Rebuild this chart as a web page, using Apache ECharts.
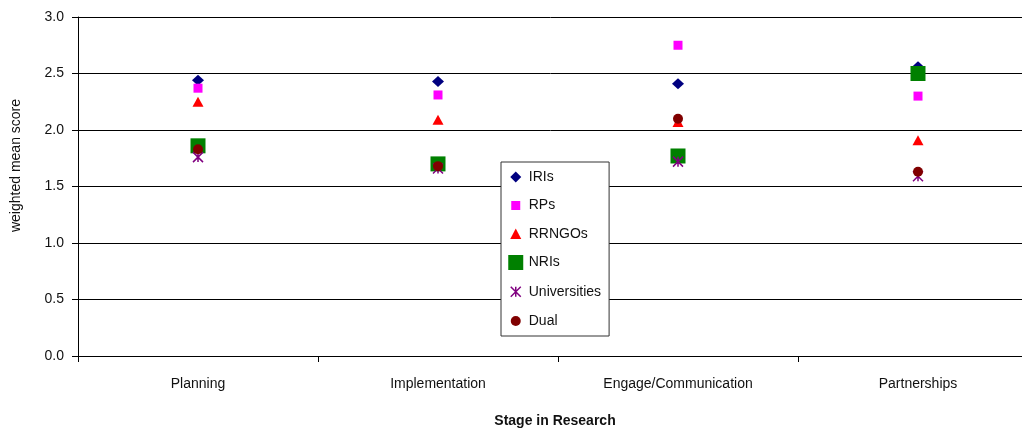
<!DOCTYPE html>
<html>
<head>
<meta charset="utf-8">
<script src="https://cdn.jsdelivr.net/npm/echarts@6/dist/echarts.min.js"></script>
<style>
  html, body { margin: 0; padding: 0; background: #fff; overflow: hidden; }
  #chart { width: 1022px; height: 430px; }
</style>
</head>
<body>
<div id="chart"></div>
<script>
// Stages of the research process (x categories)
const stages = ['Planning', 'Implementation', 'Engage/Communication', 'Partnerships'];

// Weighted mean score per stage, one array per organisation type
const iris         = [2.44, 2.43, 2.41, 2.56];
const rps          = [2.37, 2.31, 2.75, 2.30];
const rrngos       = [2.25, 2.09, 2.07, 1.91];
const nris         = [1.86, 1.70, 1.77, 2.50];
const universities = [1.76, 1.66, 1.72, 1.59];
const dual         = [1.83, 1.68, 2.10, 1.63];

// Y axis ticks
const yTicks = [0, 0.5, 1.0, 1.5, 2.0, 2.5, 3.0];

const FONT = '"Liberation Sans", Arial, sans-serif';
const STAR = 'path://M0,0L10,10M10,0L0,10M5,0L5,10';

// Legend icons drawn inside a 16x16 box so each keeps its own size
const corner = 'M0,0L0,0M16,16L16,16';
const legendIcons = {
  IRIs: 'path://' + corner + 'M8,2.5L13.5,8L8,13.5L2.5,8Z',
  RPs: 'path://' + corner + 'M3.5,3.5L12.5,3.5L12.5,12.5L3.5,12.5Z',
  RRNGOs: 'path://' + corner + 'M8,2.5L13.5,13L2.5,13Z',
  NRIs: 'path://' + corner + 'M0.5,0.5L15.5,0.5L15.5,15.5L0.5,15.5Z',
  Universities: 'path://' + corner + 'M3,3L13,13M13,3L3,13M8,3L8,13',
  Dual: 'path://' + corner + 'M3,8A5,5 0 1 1 13,8A5,5 0 1 1 3,8Z'
};

function scatter(name, values, symbol, size, color, extra) {
  return Object.assign({
    name: name,
    type: 'scatter',
    data: values,
    symbol: symbol,
    symbolSize: size,
    itemStyle: { color: color, borderWidth: 0, opacity: 1 },
    emphasis: { disabled: true }
  }, extra || {});
}

const chart = echarts.init(document.getElementById('chart'), null, { renderer: 'canvas' });

chart.setOption({
  animation: false,
  backgroundColor: '#fff',
  textStyle: { fontFamily: FONT },
  // the plot area runs a little past the right edge of the canvas
  grid: { left: 78, top: 17, width: 960, height: 339, containLabel: false, outerBoundsMode: 'none' },
  xAxis: {
    type: 'category',
    data: stages,
    boundaryGap: true,
    name: 'Stage in Research',
    nameLocation: 'middle',
    nameGap: 58,
    nameTextStyle: { fontFamily: FONT, fontSize: 14, fontWeight: 'bold', color: '#111', padding: [0, 6, 0, 0] },
    axisLine: { lineStyle: { color: '#000', width: 1 } },
    axisTick: { show: true, alignWithLabel: false, length: 6, lineStyle: { color: '#000' } },
    axisLabel: { fontFamily: FONT, fontSize: 14, color: '#111', margin: 21 },
    splitLine: { show: false }
  },
  yAxis: {
    type: 'value',
    min: yTicks[0],
    max: yTicks[yTicks.length - 1],
    interval: 0.5,
    name: 'weighted mean score',
    nameLocation: 'middle',
    nameGap: 55,
    nameRotate: 90,
    nameTextStyle: { fontFamily: FONT, fontSize: 14, color: '#111', padding: [0, 0, 0, 42] },
    axisLine: { show: true, lineStyle: { color: '#000', width: 1 } },
    axisTick: { show: true, length: 6, lineStyle: { color: '#000' } },
    axisLabel: { fontFamily: FONT, fontSize: 14, color: '#111', margin: 14, formatter: v => v.toFixed(1) },
    splitLine: { show: true, lineStyle: { color: '#000', width: 1 } }
  },
  legend: {
    orient: 'vertical',
    left: 501,
    top: 162,
    padding: [7, 8, 7, 6],
    itemWidth: 16,
    itemHeight: 16,
    itemGap: 12.5,
    backgroundColor: '#fff',
    borderColor: '#333',
    borderWidth: 1,
    borderRadius: 0,
    textStyle: { fontFamily: FONT, fontSize: 14, color: '#111' },
    data: [
      { name: 'IRIs', icon: legendIcons.IRIs },
      { name: 'RPs', icon: legendIcons.RPs },
      { name: 'RRNGOs', icon: legendIcons.RRNGOs },
      { name: 'NRIs', icon: legendIcons.NRIs },
      { name: 'Universities', icon: legendIcons.Universities, itemStyle: { borderColor: '#800080', borderWidth: 1.5 } },
      { name: 'Dual', icon: legendIcons.Dual }
    ]
  },
  series: [
    scatter('IRIs', iris, 'diamond', [12, 11], '#000080'),
    scatter('RPs', rps, 'rect', 9, '#FF00FF'),
    scatter('RRNGOs', rrngos, 'triangle', [11, 10], '#FF0000'),
    scatter('NRIs', nris, 'rect', 15, '#008000'),
    scatter('Universities', universities, STAR, 10, '#800080', {
      itemStyle: { color: '#800080', borderColor: '#800080', borderWidth: 1.5, opacity: 1 }
    }),
    scatter('Dual', dual, 'circle', 10, '#800000')
  ]
});
</script>
</body>
</html>
